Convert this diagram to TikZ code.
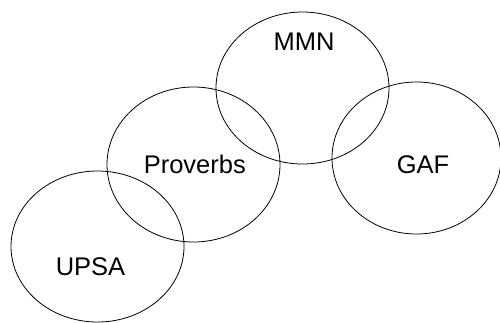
\documentclass[tikz,border=0pt]{standalone}
\usepackage{fontspec}
\setmainfont{Liberation Sans}
\begin{document}
\begin{tikzpicture}[x=1pt,y=-1pt,
  setell/.style={draw=black,line width=0.8pt},
  lab/.style={font=\fontsize{25.5}{30}\selectfont,anchor=base,inner sep=0pt}]
\useasboundingbox (0,0) rectangle (500,322);
\begin{scope}
\clip (0,0) rectangle (500,322);
\draw[setell] (97.5,246.5) ellipse [x radius=86.5, y radius=75.5];
\draw[setell] (193.5,164.5) ellipse [x radius=86.5, y radius=77.5];
\draw[setell] (302.5,88) ellipse [x radius=86.5, y radius=76];
\draw[setell] (416.5,158) ellipse [x radius=84.5, y radius=76];
\end{scope}
\node[lab] (upsa) at (90.5,275) {UPSA};
\node[lab] (prov) at (194.8,173.5) {Proverbs};
\node[lab] (mmn) at (304,50) {MMN};
\node[lab] (gaf) at (423,173) {GAF};
\end{tikzpicture}
\end{document}
